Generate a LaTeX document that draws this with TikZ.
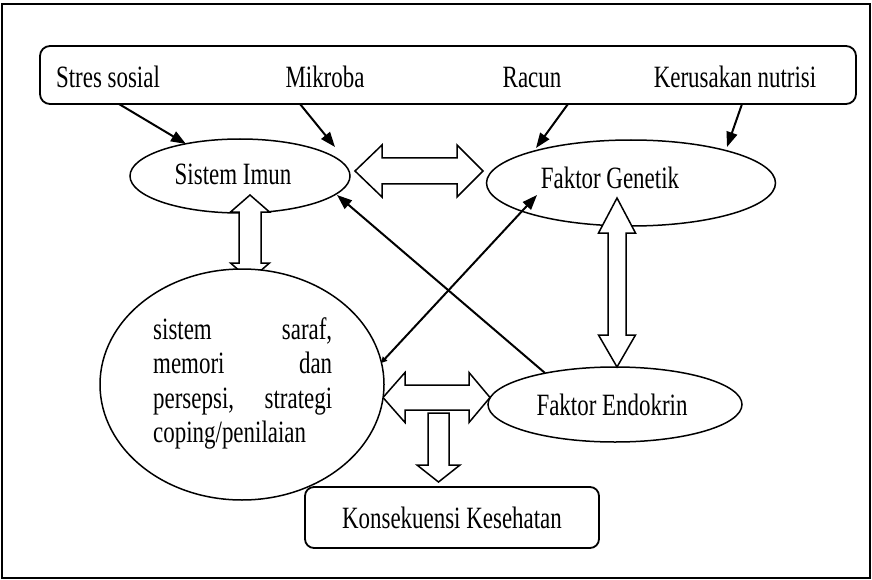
\documentclass[tikz,border=0pt]{standalone}
\usepackage{fontspec}
\setmainfont{Liberation Serif}[FakeStretch=0.74]
\usetikzlibrary{arrows.meta,shapes.geometric}
\newcommand\hdblarrow[7]{% x1 x2 y shaft-half head-half headlenL headlenR
  \draw[blk] (#1,#3) -- ({#1+#6},{#3-#5}) -- ({#1+#6},{#3-#4}) -- ({#2-#7},{#3-#4}) -- ({#2-#7},{#3-#5}) -- (#2,#3)
    -- ({#2-#7},{#3+#5}) -- ({#2-#7},{#3+#4}) -- ({#1+#6},{#3+#4}) -- ({#1+#6},{#3+#5}) -- cycle;}
\newcommand\vdblarrow[7]{% x y1 y2 shaft-half head-half headlenT headlenB
  \draw[blk] (#1,#2) -- ({#1+#5},{#2+#6}) -- ({#1+#4},{#2+#6}) -- ({#1+#4},{#3-#7}) -- ({#1+#5},{#3-#7}) -- (#1,#3)
    -- ({#1-#5},{#3-#7}) -- ({#1-#4},{#3-#7}) -- ({#1-#4},{#2+#6}) -- ({#1-#5},{#2+#6}) -- cycle;}
\newcommand\vsglarrow[6]{% x ytop ytip shaft-half head-half headlen
  \draw[blk] ({#1-#4},#2) -- ({#1+#4},#2) -- ({#1+#4},{#3-#6}) -- ({#1+#5},{#3-#6}) -- (#1,#3)
    -- ({#1-#5},{#3-#6}) -- ({#1-#4},{#3-#6}) -- cycle;}
\begin{document}
\begin{tikzpicture}[x=1pt,y=-1pt,
  lbl/.style={inner sep=0, anchor=base, font=\fontsize{31}{34.5}\selectfont},
  ell/.style={ellipse, draw, line width=1.5pt, fill=white, inner sep=0},
  blk/.style={draw, line width=1.5pt, fill=white, line join=miter},
  rbox/.style={draw, line width=1.8pt, rounded corners=10pt},
  arr/.style={line width=2pt, -{Triangle[length=15pt,width=11pt]}},
  arrb/.style={line width=2pt, {Triangle[length=6pt,width=6pt]}-{Triangle[length=15pt,width=11pt]}}]
\useasboundingbox (0,0) rectangle (872,580);
\draw[line width=1.6pt] (2,4) rectangle (870,578);
% top box
\draw[rbox] (40,46) rectangle (856,104);
\node[lbl] (stres) at (108,88) {Stres sosial};
\node[lbl] (mikroba) at (325,88) {Mikroba};
\node[lbl] (racun) at (532,88) {Racun};
\node[lbl] (nutrisi) at (735,88) {Kerusakan nutrisi};
% ellipses
\node[ell, minimum width=220pt, minimum height=74pt] (imun) at (240,176) {};
\node[ell, minimum width=289pt, minimum height=86pt] (genetik) at (631,183) {};
\node[ell, minimum width=254pt, minimum height=75pt] (endokrin) at (615,404.5) {};
% block arrows
\hdblarrow{355}{483}{171}{13}{26}{27}{26}
\hdblarrow{383}{490}{397.5}{12.5}{25}{22}{21}
\vdblarrow{250}{195}{280}{11}{19.5}{17}{17}
\vdblarrow{617}{198}{367}{9}{18.5}{35}{32}
\vsglarrow{438.5}{413}{482}{10.5}{21.5}{17}
% big ellipse
\node[ell, minimum width=284pt, minimum height=231pt] (saraf) at (242,384.5) {};
% Konsekuensi box
\draw[rbox, rounded corners=9pt] (305,487) rectangle (599,548);
% texts
\node[lbl] (timun) at (233,185) {Sistem Imun};
\node[lbl] (tgen) at (610,189) {Faktor Genetik};
\node[lbl] (tendo) at (612,415) {Faktor Endokrin};
\node[lbl] (tkons) at (452,528) {Konsekuensi Kesehatan};
\node[lbl, anchor=base west] (l1) at (153,339) {\hbox to 179pt{sistem\hfill saraf,}};
\node[lbl, anchor=base west] (l2) at (153,373.5) {\hbox to 179pt{memori\hfill dan}};
\node[lbl, anchor=base west] (l3) at (153,408) {\hbox to 179pt{persepsi,\hfill strategi}};
\node[lbl, anchor=base west] (l4) at (153,442.5) {coping/penilaian};
% single arrows
\coordinate (a1s) at (119,104); \coordinate (a1e) at (186,144);
\coordinate (a2s) at (300,104); \coordinate (a2e) at (335,147);
\coordinate (a3s) at (568,104); \coordinate (a3e) at (536,148);
\coordinate (a4s) at (742,104); \coordinate (a4e) at (727,147);
\coordinate (a5s) at (545,373); \coordinate (a5e) at (337,195);
\coordinate (a6s) at (381,363); \coordinate (a6e) at (537,195);
\draw[arr] (a1s) -- (a1e);
\draw[arr] (a2s) -- (a2e);
\draw[arr] (a3s) -- (a3e);
\draw[arr] (a4s) -- (a4e);
\draw[arr] (a5s) -- (a5e);
\draw[arrb] (a6s) -- (a6e);
\end{tikzpicture}
\end{document}
